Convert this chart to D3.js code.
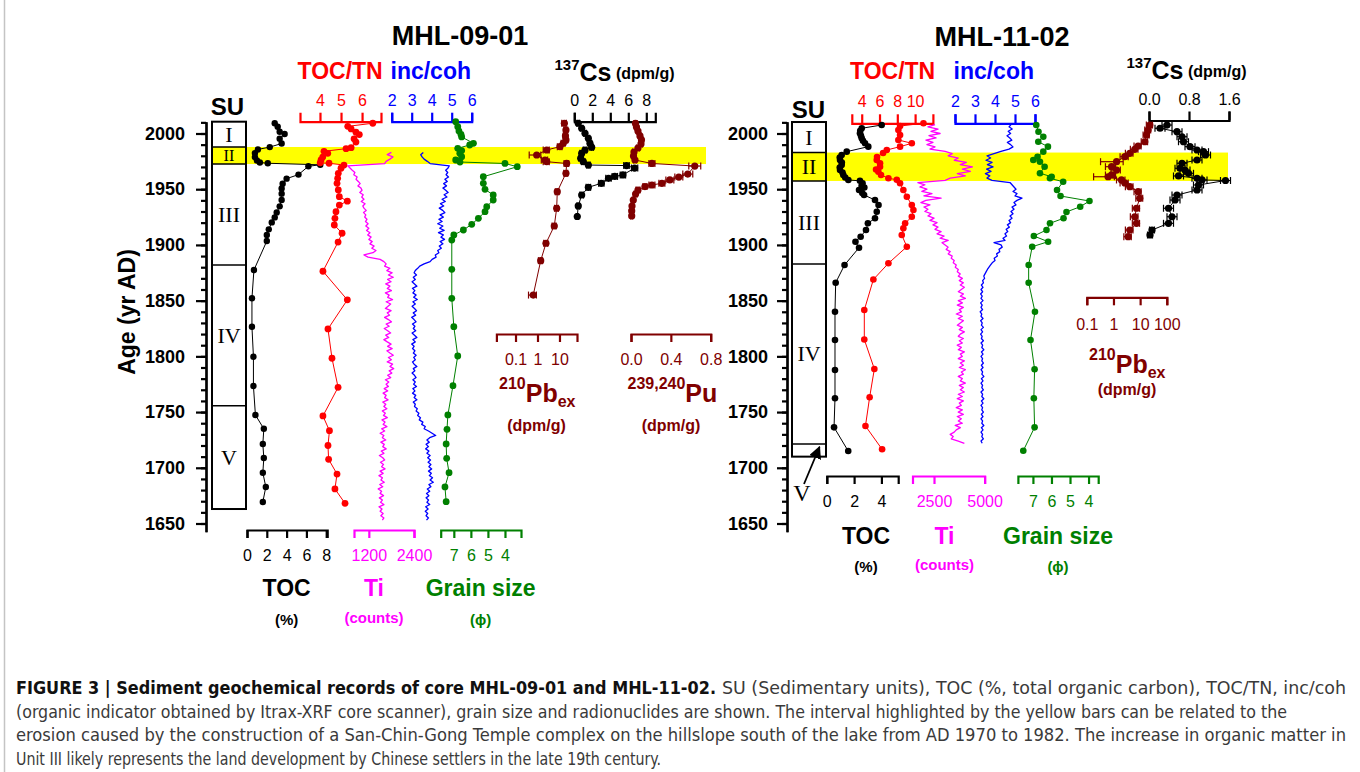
<!DOCTYPE html>
<html>
<head>
<meta charset="utf-8">
<script src="https://cdn.jsdelivr.net/npm/d3@7"></script>
<style>
  body { margin: 0; background: #fff; }
  svg { display: block; }
</style>
</head>
<body>
<svg id="fig" width="1360" height="772"></svg>
<script>
const FONT = "'Liberation Sans', Arial, Helvetica, sans-serif";
const SERIF = "'Liberation Serif', 'Times New Roman', serif";
const NARROW = "'Liberation Sans Narrow', 'DejaVu Sans Condensed', 'Roboto Condensed', sans-serif";

const RED = "#ff0000", BLUE = "#0000ff", MAGENTA = "#ff00ff", GREEN = "#008000", MAROON = "#800000";

// ---------- tick labels ----------
const yearTicks = [1650, 1700, 1750, 1800, 1850, 1900, 1950, 2000];
const tocTicksL = [0, 2, 4, 6, 8];
const tnTicksL = [4, 5, 6];
const incTicks = [2, 3, 4, 5, 6];
const tiTicksL = [1200, 2400];
const grainTicks = [7, 6, 5, 4];
const pbTicksL = [0.1, 1, 10];
const puTicks = [0.0, 0.4, 0.8];
const csTicksL = [0, 2, 4, 6, 8];
const tocTicksR = [0, 2, 4];
const tnTicksR = [4, 6, 8, 10];
const tiTicksR = [2500, 5000];
const pbTicksR = [0.1, 1, 10, 100];
const csTicksR = [0.0, 0.8, 1.6];

// ---------- sedimentary units (yr AD) ----------
const unitsLeft = [
  { label: "I", top: 2010.6, bottom: 1987.9 },
  { label: "II", top: 1987.9, bottom: 1972.6 },
  { label: "III", top: 1972.6, bottom: 1882.0 },
  { label: "IV", top: 1882.0, bottom: 1755.7 },
  { label: "V", top: 1755.7, bottom: 1663.0 }
];
const unitsRight = [
  { label: "I", top: 2010.3, bottom: 1982.9 },
  { label: "II", top: 1982.9, bottom: 1957.4 },
  { label: "III", top: 1957.4, bottom: 1882.9 },
  { label: "IV", top: 1882.9, bottom: 1721.4 },
  { label: "V", top: 1721.4, bottom: 1710.0 }
];
const bandLeft = [1972.6, 1987.9];
const bandRight = [1957.4, 1982.9];

// ---------- MHL-09-01 : [year, value] ----------
const tocLeft = [[2009.2,2.8],[2006.1,3.1],[2001.6,3.3],[1999.5,3.8],[1995.3,3.3],[1991.0,3.5],[1987.8,2.3],[1985.7,1.1],[1982.4,0.8],[1978.8,0.8],[1975.8,1.0],[1974.0,1.3],[1973.3,2.1],[1971.9,7.4],[1970.6,6.2],[1963.1,5.2],[1959.5,4.0],[1955.0,3.6],[1950.6,3.5],[1946.0,3.5],[1940.3,3.5],[1934.6,3.3],[1929.2,3.0],[1924.7,2.8],[1920.2,2.5],[1914.0,2.2],[1909.0,2.0],[1903.5,2.0],[1877.5,0.7],[1852.1,0.5],[1826.6,0.5],[1799.7,0.65],[1773.4,0.65],[1747.4,0.85],[1735.0,1.7],[1721.3,1.6],[1708.8,1.7],[1695.6,1.6],[1682.8,1.9],[1669.3,1.6]];
const tocTnLeft = [[2009.2,6.51],[2006.4,5.32],[2004.1,5.48],[2001.1,5.71],[1999.0,5.87],[1995.2,5.62],[1992.3,5.71],[1987.3,5.48],[1986.4,5.24],[1984.0,4.19],[1982.2,4.37],[1978.8,4.13],[1976.2,4.05],[1973.7,4.01],[1973.3,4.43],[1971.7,5.14],[1968.8,5.0],[1964.3,4.87],[1959.8,4.84],[1955.3,4.81],[1949.3,4.87],[1943.3,4.92],[1939.3,5.3],[1935.8,4.92],[1929.8,4.76],[1923.9,4.71],[1917.9,4.68],[1910.5,5.05],[1902.6,4.86],[1876.4,4.14],[1850.7,5.3],[1824.6,4.38],[1798.3,4.57],[1772.2,4.86],[1746.5,4.14],[1733.3,4.45],[1720.0,4.38],[1707.6,4.41],[1694.4,4.81],[1681.0,4.71],[1668.1,5.19]];
const grainLeft = [[2010.6,6.89],[2006.1,6.77],[2002.2,6.70],[1999.1,6.58],[1996.9,6.54],[1991.2,5.85],[1989.7,6.07],[1986.7,6.77],[1984.7,6.54],[1982.2,6.65],[1979.2,6.54],[1976.2,6.89],[1974.4,6.64],[1973.1,4.0],[1970.2,3.28],[1961.2,5.27],[1955.3,5.27],[1949.9,5.17],[1944.8,4.69],[1940.3,4.69],[1934.3,5.07],[1929.8,5.17],[1923.9,5.56],[1918.5,5.95],[1913.4,6.44],[1908.9,7.0],[1904.4,7.12],[1878.1,7.12],[1852.1,7.12],[1826.6,7.0],[1800.3,6.77],[1773.7,7.05],[1747.4,7.35],[1734.5,7.40],[1721.4,7.45],[1708.5,7.42],[1695.6,7.28],[1682.8,7.52],[1669.6,7.45]];
// [year, value, error]
const pbLeft = [[2009.2,16.7,4],[2003.1,19.7,4],[1997.8,18.7,4],[1994.2,19.7,4],[1991.2,14.9,3],[1988.2,10.5,2.5],[1985.2,2.62,0.8],[1980.7,0.92,0.5],[1976.2,2.19,0.7],[1974.7,2.62,0.8],[1973.1,21.2,5],[1964.3,19.7,4],[1947.8,7.94,1.5],[1932.9,7.46,1.5],[1917.0,5.8,1.2],[1901.5,2.43,0.5],[1885.9,1.40,0.3],[1855.0,0.64,0.25]];
const puLeft = [[2009.0,0.045,0.015],[2005.8,0.055,0.015],[2002.2,0.07,0.015],[1997.8,0.09,0.015],[1994.2,0.105,0.015],[1990.6,0.10,0.015],[1987.0,0.07,0.015],[1983.4,0.03,0.015],[1979.8,0.025,0.015],[1976.2,0.04,0.015],[1973.1,0.21,0.03],[1970.8,0.64,0.06],[1963.6,0.57,0.05],[1960.9,0.48,0.04],[1958.3,0.39,0.04],[1955.3,0.31,0.03],[1953.8,0.21,0.03],[1952.4,0.14,0.02],[1949.3,0.07,0.02],[1945.7,0.046,0.015],[1940.3,0.023,0.01],[1934.9,0.01,0.01],[1930.5,0.007,0.01],[1926.0,0.007,0.01]];
const csLeft = [[2009.2,0.44,0.15],[2004.7,0.82,0.15],[2000.2,1.19,0.15],[1995.7,1.56,0.15],[1991.2,1.74,0.2],[1987.6,1.93,0.2],[1985.2,1.19,0.2],[1982.2,0.82,0.2],[1977.7,0.71,0.2],[1974.7,1.0,0.2],[1971.7,1.56,0.2],[1971.2,5.8,0.3],[1969.0,6.7,0.35],[1962.8,5.4,0.3],[1961.5,4.5,0.3],[1959.8,3.8,0.3],[1955.3,3.0,0.3],[1951.7,1.56,0.25],[1944.8,0.82,0.2],[1935.0,0.44,0.15],[1925.5,0.33,0.1]];
// Itrax-XRF scans, one reading every 2 yr from the top year down
const xrfStep = 2;
const tiLeftTop = 1983;
const tiLeft = [1800,1690,1840,1760,1660,1620,640,700,760,830,800,890,860,920,970,910,990,1020,960,1050,1010,1070,1000,1100,1040,1070,1130,1060,1120,1090,1150,1110,1180,1120,1200,1140,1230,1170,1260,1200,1290,1230,1340,1280,1390,1310,1070,1180,1500,1600,1660,1620,1760,1680,1820,1720,1850,1700,1790,1650,1760,1690,1800,1640,1740,1700,1830,1660,1780,1710,1640,1790,1690,1750,1620,1720,1800,1660,1740,1610,1700,1780,1650,1730,1600,1690,1790,1700,1820,1680,1760,1850,1720,1800,1690,1830,1760,1860,1740,1810,1700,1780,1640,1730,1660,1720,1610,1700,1580,1660,1620,1710,1570,1650,1600,1680,1560,1640,1590,1690,1550,1630,1580,1680,1540,1620,1500,1600,1560,1650,1520,1610,1570,1660,1530,1600,1480,1570,1620,1510,1590,1540,1630,1500,1580,1470,1560,1520,1610,1490,1570,1450,1540,1500,1590,1480,1560,1510,1600,1470,1550,1500,1580,1520,1600,1560];
const incLeftTop = 1983;
const incLeft = [3.58,3.45,3.52,3.62,3.78,3.92,4.88,4.82,4.70,4.80,4.72,4.84,4.66,4.78,4.60,4.74,4.56,4.70,4.82,4.62,4.76,4.52,4.68,4.44,4.60,4.38,4.55,4.66,4.42,4.58,4.36,4.52,4.30,4.56,4.40,4.62,4.34,4.58,4.46,4.64,4.42,4.56,4.38,4.48,4.30,4.36,4.18,4.22,4.02,3.92,3.62,3.40,3.30,3.18,3.12,3.24,3.08,3.18,3.02,3.14,3.26,3.04,3.16,3.06,3.22,3.10,3.28,3.06,3.18,3.02,3.14,3.24,3.08,3.20,3.00,3.12,3.22,3.04,3.16,3.08,3.20,3.02,3.14,3.26,3.06,3.18,3.00,3.12,3.04,3.16,3.08,3.22,3.10,3.18,3.04,3.12,3.26,3.08,3.16,3.02,3.14,3.22,3.06,3.18,3.10,3.24,3.06,3.16,3.04,3.20,3.12,3.26,3.08,3.18,3.14,3.28,3.22,3.36,3.30,3.44,3.38,3.56,3.50,3.68,3.62,3.84,4.02,4.20,3.90,3.76,3.88,3.72,3.84,3.70,3.86,3.76,3.92,3.80,3.94,3.82,3.96,3.86,4.00,3.84,3.98,3.88,4.04,3.92,4.08,3.86,3.96,3.78,3.90,3.74,3.86,3.72,3.84,3.76,3.90,3.70,3.82,3.68,3.80,3.72,3.84,3.74];

// ---------- MHL-11-02 : [year, value] ----------
const tocRight = [[2007.6,4.02],[2004.7,2.56],[2002.5,2.45],[2000.2,2.43],[1998.0,2.50],[1995.7,2.56],[1993.5,2.65],[1991.2,2.80],[1988.2,3.04],[1983.7,1.46],[1980.7,1.09],[1978.5,0.95],[1976.2,0.97],[1974.0,1.10],[1971.7,1.09],[1969.5,0.95],[1967.2,0.97],[1965.0,1.15],[1962.8,1.21],[1960.5,1.35],[1958.3,1.58],[1957.5,2.43],[1955.3,2.62],[1953.0,2.55],[1951.5,2.75],[1949.3,2.36],[1946.5,2.60],[1944.8,2.73],[1940.3,3.53],[1935.8,3.79],[1929.8,3.66],[1923.9,3.53],[1919.4,3.01],[1913.4,2.87],[1907.4,2.48],[1902.9,2.10],[1897.5,2.36],[1882.0,1.30],[1866.1,0.65],[1840.0,0.60],[1814.7,0.60],[1787.8,0.60],[1762.4,0.60],[1736.3,0.53],[1715.0,1.57]];
const tocTnRight = [[2009.2,10.94],[2006.7,8.31],[2003.1,8.12],[1998.7,8.31],[1994.2,8.12],[1991.2,9.63],[1988.2,8.31],[1985.2,6.82],[1982.5,6.40],[1978.9,5.72],[1976.2,5.69],[1973.3,6.06],[1970.2,6.06],[1967.7,5.61],[1965.7,5.87],[1962.8,6.17],[1959.8,7.0],[1958.5,7.94],[1955.3,8.31],[1949.3,8.68],[1943.3,9.07],[1935.8,9.63],[1931.3,9.81],[1925.3,9.63],[1919.4,8.88],[1914.9,8.68],[1908.9,8.50],[1898.4,9.07],[1883.5,7.0],[1869.0,5.31],[1841.6,4.29],[1815.1,4.29],[1788.7,5.42],[1763.3,4.89],[1737.5,4.42],[1716.6,6.29]];
const grainRight = [[2007.6,6.82],[2001.6,6.70],[1997.1,6.44],[1992.6,6.71],[1988.2,6.19],[1983.7,6.44],[1979.2,6.75],[1976.2,6.98],[1974.7,6.62],[1970.2,6.37],[1964.3,6.62],[1961.2,5.99],[1959.8,6.08],[1956.7,5.37],[1949.3,5.70],[1943.9,5.51],[1939.4,3.95],[1934.3,4.45],[1929.6,5.19],[1923.9,5.35],[1919.4,6.08],[1913.4,6.27],[1908.0,6.95],[1902.9,6.18],[1898.4,7.04],[1882.0,7.23],[1866.1,7.23],[1840.0,6.89],[1814.7,7.13],[1788.4,6.91],[1762.4,6.95],[1736.3,6.91],[1715.3,7.52]];
const pbRight = [[2007.6,23.1,6],[2003.1,19.9,5],[1998.7,17.4,4.5],[1992.6,15.0,4],[1988.8,8.4,2.5],[1985.8,6.3,2],[1982.2,4.1,1.3],[1979.2,2.67,0.9],[1974.7,1.31,1.0],[1970.2,0.85,0.35],[1967.2,1.31,0.5],[1962.8,0.85,0.35],[1961.2,0.63,0.45],[1958.3,2.0,0.7],[1955.6,2.67,0.9],[1952.3,4.1,1.3],[1947.8,8.4,2.5],[1941.8,9.7,2.8],[1932.9,7.3,2.2],[1925.3,6.3,2],[1919.4,7.3,2.2],[1913.4,4.1,1.3],[1907.4,3.55,1.1]];
const csRight = [[2007.6,0.36,0.1],[2004.7,0.22,0.1],[2001.6,0.56,0.1],[1997.1,0.66,0.1],[1992.6,0.69,0.1],[1988.2,0.82,0.1],[1985.2,0.96,0.1],[1983.7,1.09,0.1],[1980.7,1.13,0.1],[1976.2,0.96,0.1],[1973.3,0.66,0.1],[1968.8,0.62,0.1],[1967.2,0.72,0.1],[1964.3,0.79,0.1],[1961.9,0.59,0.1],[1959.8,0.96,0.1],[1958.3,1.06,0.1],[1957.8,1.53,0.1],[1953.8,0.99,0.1],[1949.3,0.96,0.1],[1944.8,0.56,0.1],[1940.3,0.52,0.1],[1932.9,0.39,0.1],[1925.3,0.46,0.1],[1919.4,0.39,0.1],[1913.4,0.06,0.05],[1908.9,0.02,0.05]];
const tiRightTop = 2008;
const tiRight = [2550,2200,2700,2350,2800,2250,2600,2100,2450,2150,2550,2300,3050,3400,3200,3700,3500,4100,3800,4400,3900,4300,3650,4050,3300,3050,1700,2050,1800,2150,1900,2400,2000,2850,2100,1850,2300,2000,2200,2050,2350,2200,2500,2300,2650,2450,2700,2550,2850,2650,3000,2800,3200,2900,3050,3200,3100,3300,3200,3400,3350,3500,3450,3600,3550,3700,3650,3800,3700,3900,3750,3950,3800,4000,3850,3700,3950,3800,4050,3700,3900,3650,3950,3750,3850,3600,3900,3700,3950,3800,3650,3900,3750,4000,3800,3700,3950,3750,3900,3650,3850,3700,4000,3800,3900,3700,4000,3800,3950,3750,4050,3850,3950,3700,3900,3800,4050,3750,3950,3800,4000,3700,3900,3650,3950,3750,3850,3600,3900,3700,3950,3650,3850,3700,3900,3550,3800,3600,3500,3300,3450,3350,3700,4000];
const incRightTop = 2008;
const incRight = [4.80,4.70,4.86,4.66,4.78,4.60,4.74,4.84,4.62,4.78,4.90,4.70,4.30,3.95,3.60,3.78,3.55,3.85,3.62,3.90,3.58,3.80,3.52,3.74,3.60,3.85,4.75,4.85,4.95,5.05,4.90,5.10,5.00,5.35,5.10,4.95,5.05,4.85,4.95,4.80,4.90,4.75,4.85,4.70,4.78,4.62,4.72,4.56,4.64,4.50,4.58,4.40,4.50,3.95,4.30,4.36,4.20,4.24,4.08,4.12,3.96,4.00,3.86,3.78,3.70,3.62,3.56,3.50,3.44,3.48,3.38,3.42,3.32,3.40,3.30,3.38,3.28,3.36,3.30,3.40,3.28,3.36,3.30,3.38,3.26,3.34,3.30,3.40,3.28,3.36,3.32,3.42,3.30,3.38,3.28,3.36,3.32,3.42,3.30,3.38,3.34,3.44,3.32,3.40,3.30,3.38,3.34,3.42,3.32,3.40,3.30,3.38,3.34,3.44,3.32,3.40,3.30,3.38,3.34,3.42,3.30,3.38,3.34,3.44,3.32,3.40,3.30,3.38,3.34,3.42,3.32,3.40,3.30,3.38,3.34,3.44,3.32,3.40,3.30,3.38,3.34,3.42,3.30,3.36];

// ---------- scales ----------
const y = d3.scaleLinear().domain([1650, 2000]).range([523.5, 133.5]);

const xTocL = d3.scaleLinear().domain([0, 8.1]).range([247, 327.2]);
const xTnL = d3.scaleLinear().domain([3.05, 6.9]).range([300, 381]);
const xTiL = d3.scaleLinear().domain([806, 2400]).range([354, 414]);
const xIncL = d3.scaleLinear().domain([2, 6]).range([391.7, 471.7]);
const xGrainL = d3.scaleLinear().domain([7.77, 3.06]).range([440.7, 521]);
const xPbL = d3.scaleLog().domain([0.0135, 62.7]).range([496.4, 577]);
const xPuL = d3.scaleLinear().domain([0, 0.8]).range([631, 710.7]);
const xCsL = d3.scaleLinear().domain([0, 9]).range([574.3, 655.3]);

const xTocR = d3.scaleLinear().domain([0, 5.23]).range([826.8, 898.2]);
const xTnR = d3.scaleLinear().domain([2.885, 12.0]).range([851.8, 932.9]);
const xTiR = d3.scaleLinear().domain([1437, 5000]).range([912.5, 984.6]);
const xIncR = d3.scaleLinear().domain([2, 6]).range([955, 1035]);
const xGrainR = d3.scaleLinear().domain([7.81, 3.48]).range([1017.9, 1098.2]);
const xCsR = d3.scaleLinear().domain([0, 1.6]).range([1149, 1229]);
const xPbR = d3.scaleLog().domain([0.1, 100]).range([1086.8, 1166.8]);

const svg = d3.select("#fig");

// frame line on the left
svg.append("line").attr("x1", 4.5).attr("x2", 4.5).attr("y1", 0).attr("y2", 772)
  .attr("stroke", "#c4c4c4").attr("stroke-width", 1.5);

// ---------- helpers ----------
function band(x0, x1, yrs) {
  svg.append("rect")
    .attr("x", x0).attr("width", x1 - x0)
    .attr("y", y(yrs[1])).attr("height", y(yrs[0]) - y(yrs[1]))
    .attr("fill", "#ffff00");
}

function units(list, x0, x1, showLast) {
  const top = list[0].top, bottom = list[list.length - 1].bottom;
  svg.append("rect").attr("x", x0).attr("y", y(top))
    .attr("width", x1 - x0).attr("height", y(bottom) - y(top))
    .attr("fill", "none").attr("stroke", "#000").attr("stroke-width", 2);
  list.slice(1).forEach(u => {
    svg.append("line").attr("x1", x0).attr("x2", x1)
      .attr("y1", y(u.top)).attr("y2", y(u.top))
      .attr("stroke", "#000").attr("stroke-width", 1.6);
  });
  list.forEach((u, i) => {
    if (i === list.length - 1 && !showLast) return;
    // the cell can be thinner than the numeral, so shrink it to fit
    const h = y(u.bottom) - y(u.top);
    const fs = Math.min(22, h * 0.95);
    svg.append("text").attr("x", (x0 + x1) / 2).attr("y", (y(u.top) + y(u.bottom)) / 2 + fs * 0.33)
      .attr("text-anchor", "middle").attr("font-family", SERIF).attr("font-size", fs)
      .text(u.label);
  });
}

function yAxis(x, pad) {
  const ys = d3.scaleLinear().domain([1642.5, 2010.5]).range([y(1642.5), y(2010.5)]);
  const minor = svg.append("g").attr("transform", `translate(${x},0)`)
    .call(d3.axisLeft(ys).tickValues(d3.range(1650, 2011, 10)).tickSize(5).tickSizeOuter(0).tickFormat(""));
  const major = svg.append("g").attr("transform", `translate(${x},0)`)
    .call(d3.axisLeft(ys).tickValues(yearTicks).tickSize(10).tickSizeOuter(0).tickPadding(pad).tickFormat(d3.format("d")));
  [minor, major].forEach(g => g.selectAll("path, line").attr("stroke-width", 2.2));
  major.attr("font-family", FONT).attr("font-size", 18).attr("font-weight", "bold");
}

function hAxis(scale, side, pos, ticks, fmt, color, pad) {
  const size = side === "top" ? 9 : 8;
  const a = (side === "top" ? d3.axisTop(scale) : d3.axisBottom(scale))
    .tickValues(ticks).tickFormat(fmt).tickSize(size).tickSizeOuter(size).tickPadding(pad);
  const g = svg.append("g").attr("transform", `translate(0,${pos})`).call(a)
    .attr("color", color).attr("font-family", FONT).attr("font-size", 16);
  g.selectAll("path, line").attr("stroke-width", 2.2);
}

function trace(data, xs, color, width) {
  svg.append("path").datum(data)
    .attr("d", d3.line().x(d => xs(d[1])).y(d => y(d[0])))
    .attr("fill", "none").attr("stroke", color).attr("stroke-width", width)
    .attr("stroke-linejoin", "round");
}

function xrf(values, top, xs, color) {
  const data = values.map((v, i) => [top - i * xrfStep, v]);
  trace(data, xs, color, 1.3);
}

function dots(data, xs, color, r) {
  trace(data, xs, color, 1);
  const withErr = data.filter(d => d.length > 2);
  const lo = xs.domain()[0];
  const eg = svg.append("g").attr("stroke", color).attr("stroke-width", 1.2);
  withErr.forEach(d => {
    const x1 = xs(Math.max(d[1] - d[2], lo > 0 ? Math.max(lo, d[1] * 0.25) : lo - 1));
    const x2 = xs(d[1] + d[2]);
    const yy = y(d[0]);
    eg.append("line").attr("x1", x1).attr("x2", x2).attr("y1", yy).attr("y2", yy);
    eg.append("line").attr("x1", x1).attr("x2", x1).attr("y1", yy - 3.5).attr("y2", yy + 3.5);
    eg.append("line").attr("x1", x2).attr("x2", x2).attr("y1", yy - 3.5).attr("y2", yy + 3.5);
  });
  svg.append("g").selectAll("circle").data(data).join("circle")
    .attr("cx", d => xs(d[1])).attr("cy", d => y(d[0])).attr("r", r).attr("fill", color);
}

function label(x, yb, parts, color, anchor) {
  const t = svg.append("text").attr("x", x).attr("y", yb)
    .attr("font-family", FONT).attr("font-weight", "bold").attr("fill", color)
    .attr("text-anchor", anchor || "start");
  parts.forEach(p => {
    const s = t.append("tspan").attr("font-size", p[1]).text(p[0]);
    if (p[2] !== undefined) s.attr("dy", p[2]);
  });
  return t;
}

const fmtInt = d3.format("d");
const fmtLog = d => (d < 1 ? String(d) : d3.format("d")(d));
const fmt1 = d3.format(".1f");

// ---------- yellow bands ----------
band(212, 706, bandLeft);
band(792, 1228, bandRight);

// ---------- SU columns ----------
units(unitsLeft, 212, 246, true);
units(unitsRight, 792, 826, false);
svg.append("text").attr("x", 802).attr("y", 501).attr("text-anchor", "middle")
  .attr("font-family", SERIF).attr("font-size", 24).text("V");
svg.append("defs").append("marker").attr("id", "head")
  .attr("viewBox", "0 0 10 10").attr("refX", 9).attr("refY", 5)
  .attr("markerWidth", 7).attr("markerHeight", 7).attr("orient", "auto")
  .append("path").attr("d", "M0,0 L10,5 L0,10 z").attr("fill", "#000");
svg.append("line").attr("x1", 804).attr("y1", 484).attr("x2", 819.5).attr("y2", 447)
  .attr("stroke", "#000").attr("stroke-width", 1.8).attr("marker-end", "url(#head)");

// ---------- age axes ----------
yAxis(206, 11);
yAxis(787, 9);
svg.append("text").attr("transform", "translate(135,312) rotate(-90)")
  .attr("text-anchor", "middle").attr("font-family", FONT).attr("font-weight", "bold")
  .attr("font-size", 23).text("Age (yr AD)");

// ---------- axes, MHL-09-01 ----------
hAxis(xTnL, "top", 121.7, tnTicksL, fmtInt, RED, 7);
hAxis(xIncL, "top", 121.7, incTicks, fmtInt, BLUE, 7);
hAxis(xCsL, "top", 121.7, csTicksL, fmtInt, "#000", 7);
hAxis(xTocL, "bottom", 530, tocTicksL, fmtInt, "#000", 12);
hAxis(xTiL, "bottom", 530, tiTicksL, fmtInt, MAGENTA, 12);
hAxis(xGrainL, "bottom", 530, grainTicks, fmtInt, GREEN, 12);
hAxis(xPbL, "bottom", 334, pbTicksL, fmtLog, MAROON, 12);
hAxis(xPuL, "bottom", 334, puTicks, fmt1, MAROON, 12);

// ---------- axes, MHL-11-02 ----------
hAxis(xTnR, "top", 123.3, tnTicksR, fmtInt, RED, 7);
hAxis(xIncR, "top", 123.3, incTicks, fmtInt, BLUE, 7);
hAxis(xCsR, "top", 120.5, csTicksR, fmt1, "#000", 7);
hAxis(xTocR, "bottom", 476, tocTicksR, fmtInt, "#000", 12);
hAxis(xTiR, "bottom", 476, tiTicksR, fmtInt, MAGENTA, 12);
hAxis(xGrainR, "bottom", 476, grainTicks, fmtInt, GREEN, 12);
hAxis(xPbR, "bottom", 297.3, pbTicksR, fmtLog, MAROON, 13);

// ---------- data, MHL-09-01 ----------
xrf(tiLeft, tiLeftTop, xTiL, MAGENTA);
xrf(incLeft, incLeftTop, xIncL, BLUE);
dots(tocLeft, xTocL, "#000", 3.2);
dots(tocTnLeft, xTnL, RED, 3.4);
dots(grainLeft, xGrainL, GREEN, 3.4);
dots(pbLeft, xPbL, MAROON, 3.6);
dots(puLeft, xPuL, MAROON, 3.6);
dots(csLeft, xCsL, "#000", 3.6);

// ---------- data, MHL-11-02 ----------
xrf(tiRight, tiRightTop, xTiR, MAGENTA);
xrf(incRight, incRightTop, xIncR, BLUE);
dots(tocRight, xTocR, "#000", 3.3);
dots(tocTnRight, xTnR, RED, 3.3);
dots(grainRight, xGrainR, GREEN, 3.3);
dots(pbRight, xPbR, MAROON, 3.6);
dots(csRight, xCsR, "#000", 3.6);

// ---------- titles and labels ----------
label(460, 45, [["MHL-09-01", 27]], "#000", "middle");
label(1002, 46, [["MHL-11-02", 27]], "#000", "middle");
label(227.5, 115, [["SU", 24]], "#000", "middle");
label(808.5, 118, [["SU", 24]], "#000", "middle");

label(297.5, 79, [["TOC/TN", 23]], RED);
label(390.5, 79, [["inc/coh", 23]], BLUE);
label(850, 79, [["TOC/TN", 23]], RED);
label(953.5, 79, [["inc/coh", 23]], BLUE);

label(554.5, 70, [["137", 15], ["Cs", 25, 11], [" (dpm/g)", 16, -2]], "#000");
label(1126.5, 68, [["137", 15], ["Cs", 25, 11], [" (dpm/g)", 16, -2]], "#000");

label(286.6, 596, [["TOC", 23]], "#000", "middle");
label(286.6, 625, [["(%)", 15]], "#000", "middle");
label(374, 596, [["Ti", 23]], MAGENTA, "middle");
label(374, 623, [["(counts)", 15]], MAGENTA, "middle");
label(480.6, 596, [["Grain size", 23]], GREEN, "middle");
label(480.6, 625, [["(\u03d5)", 15]], GREEN, "middle");

label(866, 544, [["TOC", 23]], "#000", "middle");
label(866, 572, [["(%)", 15]], "#000", "middle");
label(944.5, 544, [["Ti", 23]], MAGENTA, "middle");
label(944.5, 570, [["(counts)", 15]], MAGENTA, "middle");
label(1058, 544, [["Grain size", 23]], GREEN, "middle");
label(1058, 572, [["(\u03d5)", 15]], GREEN, "middle");

label(499, 389, [["210", 16], ["Pb", 25, 13], ["ex", 16, 5]], MAROON);
label(536.5, 431, [["(dpm/g)", 16]], MAROON, "middle");
label(627.5, 389, [["239,240", 16], ["Pu", 25, 13]], MAROON);
label(671, 431, [["(dpm/g)", 16]], MAROON, "middle");
label(1089, 360, [["210", 16], ["Pb", 25, 13], ["ex", 16, 5]], MAROON);
label(1127, 395, [["(dpm/g)", 16]], MAROON, "middle");

// ---------- caption ----------
const captionLines = [
  "(organic indicator obtained by Itrax-XRF core scanner), grain size and radionuclides are shown. The interval highlighted by the yellow bars can be related to the",
  "erosion caused by the construction of a San-Chin-Gong Temple complex on the hillslope south of the lake from AD 1970 to 1982. The increase in organic matter in",
  "Unit III likely represents the land development by Chinese settlers in the late 19th century."
];
const captionLead = "FIGURE 3 | Sediment geochemical records of core MHL-09-01 and MHL-11-02.";
const captionFirst = "SU (Sedimentary units), TOC (%, total organic carbon), TOC/TN, inc/coh";

function capText(x, yb, str, len, bold) {
  svg.append("text").attr("x", x).attr("y", yb)
    .attr("font-family", NARROW).attr("font-size", 17)
    .attr("font-weight", bold ? "bold" : "normal")
    .attr("fill", bold ? "#111" : "#3a3a3a")
    .attr("textLength", len).attr("lengthAdjust", "spacingAndGlyphs")
    .text(str);
}
capText(16, 694, captionLead, 700, true);
capText(722, 694, captionFirst, 624, false);
capText(16, 717.5, captionLines[0], 1271, false);
capText(16, 741, captionLines[1], 1330, false);
capText(16, 764.5, captionLines[2], 645, false);
</script>
</body>
</html>
